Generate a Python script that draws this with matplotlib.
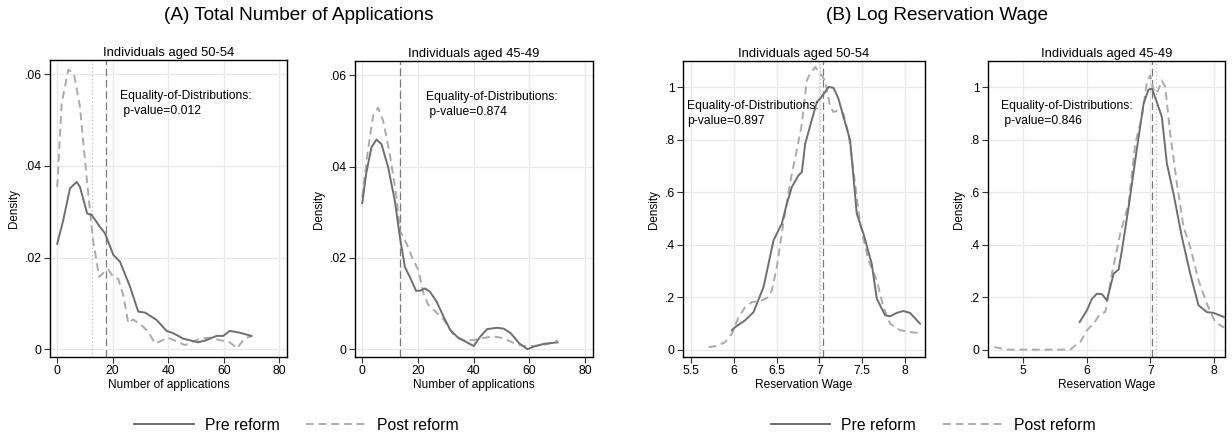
import matplotlib
matplotlib.use("Agg")
import matplotlib.pyplot as plt
from matplotlib.lines import Line2D
from matplotlib.ticker import FuncFormatter

plt.rcParams['font.family'] = ['Liberation Sans', 'DejaVu Sans']

# ---------------- data ----------------
# Panel A1: applications, aged 50-54
a1_pre_x = [0, 2.2, 4.6, 7.0, 8.2, 10.8, 12.4, 15.4, 17.2, 20.2, 22.6, 26.2, 29.2, 31.6, 35.8, 39.4,
            41.8, 45.4, 50.8, 53.8, 57.4, 59.8, 62.2, 65.8, 70]
a1_pre_y = [0.0230, 0.0282, 0.0351, 0.0365, 0.0354, 0.0296, 0.0293, 0.0267, 0.0253, 0.0206, 0.0191,
            0.0137, 0.0082, 0.0080, 0.0064, 0.0040, 0.0035, 0.0023, 0.0015, 0.0020, 0.0029, 0.0029,
            0.0040, 0.0036, 0.0029]
a1_post_x = [0, 1.6, 4.0, 6.0, 8.2, 10.8, 12.9, 15.1, 16.6, 18.4, 20.2, 22.0, 23.8, 25.6, 27.4, 31.0,
             32.8, 35.2, 37.0, 40.0, 43.0, 46.0, 49.0, 52.0, 55.0, 58.6, 62.2, 64.8, 67.6, 70]
a1_post_y = [0.0354, 0.0536, 0.0610, 0.0601, 0.0529, 0.0362, 0.0238, 0.0158, 0.0166, 0.0174, 0.0158,
             0.0153, 0.0118, 0.0057, 0.0065, 0.0049, 0.0038, 0.0013, 0.0017, 0.0025, 0.0017, 0.0009,
             0.0017, 0.0024, 0.0025, 0.0020, 0.0015, 0.0002, 0.0024, 0.0028]

# Panel A2: applications, aged 45-49
a2_pre_x = [0, 1.4, 3.3, 5.1, 6.9, 9.3, 11.7, 13.5, 15.3, 17.1, 19.3, 20.7, 22.5, 24.3, 26.7, 29.2,
            31.6, 34.6, 37.0, 40.0, 42.4, 44.8, 48.4, 50.8, 53.3, 56.3, 59.3, 61.7, 65.3, 70.1]
a2_pre_y = [0.0320, 0.0384, 0.0442, 0.0459, 0.0449, 0.0398, 0.0325, 0.0246, 0.0180, 0.0158, 0.0128,
            0.0128, 0.0133, 0.0126, 0.0104, 0.0071, 0.0042, 0.0024, 0.0017, 0.0007, 0.0028, 0.0044,
            0.0047, 0.0045, 0.0035, 0.0013, 0.0000, 0.0006, 0.0012, 0.0015]
a2_post_x = [0, 2.0, 3.9, 5.7, 7.5, 9.9, 12.3, 13.5, 15.9, 18.3, 20.1, 22.0, 23.7, 26.7, 29.2, 32.8,
             36.4, 40.0, 43.6, 47.2, 50.8, 54.5, 58.1, 61.7, 66.5, 70.1]
a2_post_y = [0.0333, 0.0434, 0.0511, 0.0529, 0.0500, 0.0427, 0.0333, 0.0260, 0.0231, 0.0195, 0.0174,
             0.0122, 0.0097, 0.0080, 0.0065, 0.0031, 0.0020, 0.0020, 0.0025, 0.0028, 0.0024, 0.0013,
             0.0007, 0.0007, 0.0011, 0.0020]

# Panel B1: log reservation wage, aged 50-54
b1_pre_x = [5.978, 6.017, 6.134, 6.231, 6.348, 6.464, 6.561, 6.620, 6.678, 6.756, 6.795, 6.834, 6.931,
            6.970, 7.009, 7.067, 7.106, 7.164, 7.222, 7.281, 7.359, 7.436, 7.514, 7.611, 7.670, 7.767,
            7.825, 7.903, 7.981, 8.058, 8.175]
b1_pre_y = [0.074, 0.086, 0.112, 0.143, 0.239, 0.416, 0.480, 0.556, 0.619, 0.664, 0.676, 0.784, 0.898,
            0.943, 0.956, 0.981, 1.000, 0.997, 0.956, 0.886, 0.797, 0.518, 0.442, 0.327, 0.194, 0.131,
            0.127, 0.140, 0.147, 0.140, 0.099]
b1_post_x = [5.706, 5.803, 5.900, 5.978, 6.056, 6.134, 6.212, 6.309, 6.406, 6.445, 6.503, 6.581, 6.678,
             6.736, 6.795, 6.853, 6.892, 6.950, 7.009, 7.067, 7.125, 7.164, 7.222, 7.281, 7.339, 7.397,
             7.475, 7.572, 7.670, 7.747, 7.825, 7.942, 8.058, 8.175]
b1_post_y = [0.010, 0.014, 0.029, 0.061, 0.124, 0.162, 0.181, 0.185, 0.200, 0.226, 0.315, 0.486, 0.670,
             0.759, 0.860, 1.025, 1.051, 1.076, 1.051, 1.025, 0.924, 0.905, 0.911, 0.898, 0.822, 0.683,
             0.480, 0.340, 0.264, 0.162, 0.099, 0.074, 0.067, 0.063]

# Panel B2: log reservation wage, aged 45-49
b2_pre_x = [5.889, 6.003, 6.082, 6.160, 6.239, 6.317, 6.422, 6.500, 6.552, 6.657, 6.787, 6.892, 6.970,
            7.023, 7.091, 7.179, 7.258, 7.362, 7.493, 7.624, 7.754, 7.885, 7.990, 8.157]
b2_pre_y = [0.105, 0.150, 0.194, 0.213, 0.211, 0.188, 0.289, 0.305, 0.378, 0.543, 0.765, 0.937, 0.990,
            0.994, 0.949, 0.886, 0.708, 0.594, 0.429, 0.289, 0.169, 0.143, 0.140, 0.124]
b2_post_x = [4.55, 4.749, 4.958, 5.22, 5.48, 5.742, 5.82, 5.899, 6.003, 6.108, 6.213, 6.291, 6.395,
             6.526, 6.657, 6.761, 6.866, 6.944, 6.997, 7.049, 7.101, 7.179, 7.232, 7.310, 7.415, 7.519,
             7.624, 7.754, 7.885, 8.016, 8.157]
b2_post_y = [0.010, 0.0, 0.0, 0.0, 0.0, 0.0, 0.016, 0.029, 0.074, 0.099, 0.137, 0.143, 0.289, 0.442,
             0.556, 0.784, 0.886, 1.019, 1.044, 0.987, 0.975, 1.025, 1.000, 0.822, 0.632, 0.467, 0.391,
             0.264, 0.175, 0.105, 0.084]

# means (vertical reference lines): pre = dashed, post = dotted
pre_means = [17.5, 13.4, 7.047, 7.03]
post_means = [12.4, 13.4, 7.009, 7.09]

p_values = ["0.012", "0.874", "0.897", "0.846"]
subtitles = ["Individuals aged 50-54", "Individuals aged 45-49",
             "Individuals aged 50-54", "Individuals aged 45-49"]
xlabels = ["Number of applications", "Number of applications", "Reservation Wage", "Reservation Wage"]
main_titles = ["(A) Total Number of Applications", "(B) Log Reservation Wage"]
legend_labels = ["Pre reform", "Post reform"]

# ---------------- styling ----------------
PRE_C = "#6f6f6f"
POST_C = "#ababab"
GRID_C = "#e8e8e8"
DASH = (0, (4, 2.5))

fig = plt.figure(figsize=(12.32, 4.36), dpi=100)
W, H = 1232, 436
boxes = [(50, 60, 237, 297), (355, 61, 238, 296), (683, 61, 242, 296), (988, 61, 237, 296)]
axes = []
for (l, t, w, h) in boxes:
    axes.append(fig.add_axes([l / W, 1 - (t + h) / H, w / W, h / H]))

series = [(a1_pre_x, a1_pre_y, a1_post_x, a1_post_y),
          (a2_pre_x, a2_pre_y, a2_post_x, a2_post_y),
          (b1_pre_x, b1_pre_y, b1_post_x, b1_post_y),
          (b2_pre_x, b2_pre_y, b2_post_x, b2_post_y)]
xlims = [(-2.6, 82.8), (-2.6, 82.8), (5.407, 8.233), (4.45, 8.17)]
ylims = [(-0.0017, 0.0631), (-0.0017, 0.0631), (-0.028, 1.099), (-0.028, 1.099)]
xticks = [[0, 20, 40, 60, 80], [0, 20, 40, 60, 80], [5.5, 6, 6.5, 7, 7.5, 8], [5, 6, 7, 8]]
yticks = [[0, 0.02, 0.04, 0.06], [0, 0.02, 0.04, 0.06], [0, 0.2, 0.4, 0.6, 0.8, 1], [0, 0.2, 0.4, 0.6, 0.8, 1]]
text_pos = [(22.8, 0.0566), (22.9, 0.0566), (5.453, 0.950), (4.66, 0.950)]
pv_prefix = [" ", " ", "", " "]


def stata_fmt(v, pos):
    if abs(v) < 1e-12:
        return "0"
    s = ("%g" % v)
    if s.startswith("0."):
        s = s[1:]
    return s


def xfmt(v, pos):
    return "%g" % v


for i, ax in enumerate(axes):
    px, py, qx, qy = series[i]
    ax.set_xlim(*xlims[i])
    ax.set_ylim(*ylims[i])
    ax.set_xticks(xticks[i])
    ax.set_yticks(yticks[i])
    ax.yaxis.set_major_formatter(FuncFormatter(stata_fmt))
    ax.xaxis.set_major_formatter(FuncFormatter(xfmt))
    ax.grid(True, color=GRID_C, linewidth=0.9, zorder=0)
    ax.set_axisbelow(True)
    ax.axvline(post_means[i], color="#bdbdbd", linestyle=(0, (1, 2)), linewidth=0.9, zorder=1)
    ax.axvline(pre_means[i], color="#7a7a7a", linestyle=(0, (6, 3)), linewidth=0.9, zorder=1)
    ax.plot(px, py, color=PRE_C, linewidth=1.4, zorder=3)
    ax.plot(qx, qy, color=POST_C, linewidth=1.4, linestyle=DASH, zorder=2)
    ax.set_title(subtitles[i], fontsize=9.4, pad=3)
    ax.set_xlabel(xlabels[i], fontsize=8.6, labelpad=1)
    ax.set_ylabel("Density", fontsize=8.4, labelpad=3.5)
    ax.tick_params(axis='both', labelsize=8.8, length=4, width=0.8, color="#333333", pad=2)
    for sp in ax.spines.values():
        sp.set_linewidth(1.0)
        sp.set_color("black")
    ax.text(text_pos[i][0], text_pos[i][1],
            "Equality-of-Distributions:\n" + pv_prefix[i] + "p-value=" + p_values[i],
            fontsize=8.7, va="top", ha="left", linespacing=1.35, zorder=4)

fig.text(299 / W, 1 - 16 / H, main_titles[0], fontsize=13.7, ha="center", va="center")
fig.text(937.5 / W, 1 - 16 / H, main_titles[1], fontsize=13.7, ha="center", va="center")

handles = [Line2D([], [], color=PRE_C, linewidth=1.4),
           Line2D([], [], color=POST_C, linewidth=1.4, linestyle=DASH)]
for cx in (296.5 / W, 933 / W):
    fig.legend(handles, legend_labels, loc="center", bbox_to_anchor=(cx, 1 - 425 / H), ncol=2,
               frameon=False, fontsize=11.3, handlelength=3.8, handletextpad=0.7, columnspacing=1.7)

fig.savefig("out.png", dpi=100)
